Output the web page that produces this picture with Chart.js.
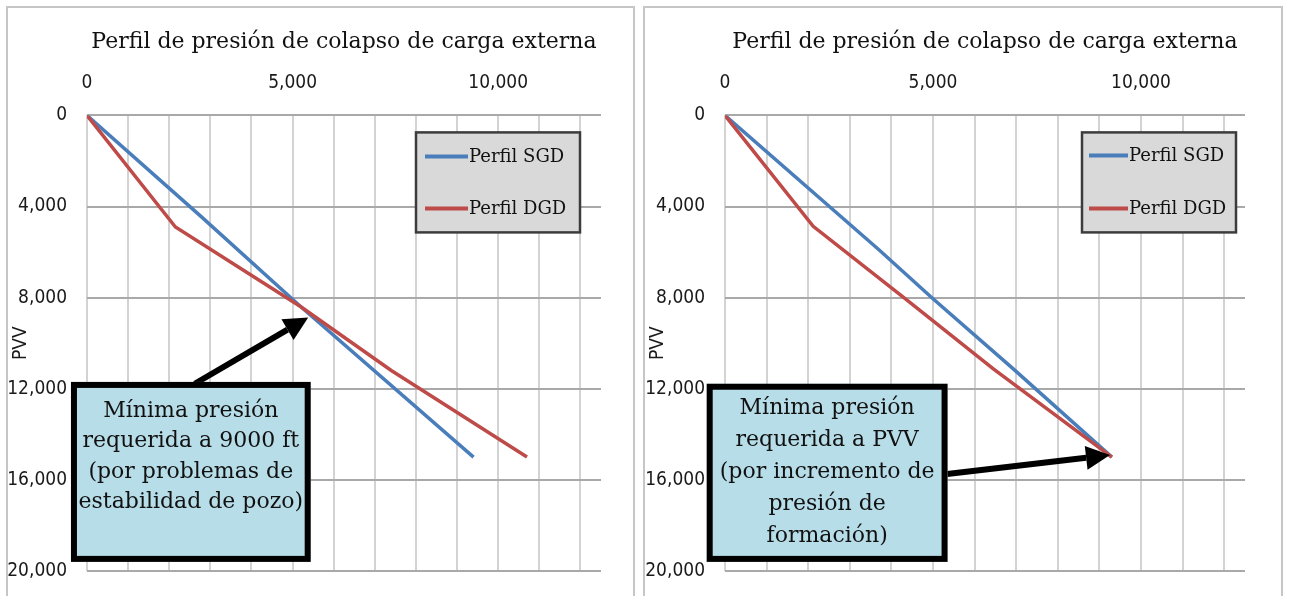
<!DOCTYPE html>
<html><head><meta charset="utf-8">
<script src="https://cdn.jsdelivr.net/npm/chart.js@4.4.1/dist/chart.umd.min.js"></script>
<style>
html,body{margin:0;padding:0;background:#fff;overflow:hidden;}
.panel{position:absolute;top:6px;border:2px solid #c6c6c6;border-bottom:none;}
#p1{left:6px;width:625px;height:590px;}
#p2{left:643px;width:636px;height:590px;}
canvas{display:block;}
</style></head><body>
<div class="panel" id="p1"><canvas id="c1" width="625" height="588"></canvas></div>
<div class="panel" id="p2"><canvas id="c2" width="636" height="588"></canvas></div>
<script>
// ---- data ----
const titulo = 'Perfil de presión de colapso de carga externa';
const ejeY = 'PVV';
const seriesNames = ['Perfil SGD', 'Perfil DGD'];
const ticksPresion = [0, 5000, 10000];          // labelled x ticks
const gridPresion = [0,1000,2000,3000,4000,5000,6000,7000,8000,9000,10000,11000,12000];
const ticksPVV = [0, 4000, 8000, 12000, 16000, 20000];
// left chart
const sgd1Presion = [0, 2750, 5200, 9400];
const sgd1PVV     = [0, 4400, 8400, 15000];
const dgd1Presion = [0, 2150, 5200, 7400, 10700];
const dgd1PVV     = [0, 4900, 8400, 11200, 15000];
// right chart
const sgd2Presion = [0, 3700, 5000, 6930, 9300];
const sgd2PVV     = [0, 5900, 8050, 11130, 15000];
const dgd2Presion = [0, 2120, 4330, 6450, 9300];
const dgd2PVV     = [0, 4870, 8040, 11130, 15000];
// callouts
const nota1 = ['Mínima presión', 'requerida a 9000 ft', '(por problemas de', 'estabilidad de pozo)'];
const nota2 = ['Mínima presión', 'requerida a PVV', '(por incremento de', 'presión de', 'formación)'];

const AZUL = '#4a7ebb', ROJO = '#be4b48';
const pts = (xs, ys) => xs.map((v, i) => ({x: v, y: ys[i]}));
const SERIF = '"DejaVu Serif", serif';
const SANS = '"DejaVu Sans Condensed", "DejaVu Sans", sans-serif';

const calloutPlugin = {
  id: 'callout',
  afterDraw(chart, args, o) {
    const {ctx, chartArea: ca, scales: {x, y}} = chart;
    ctx.save();
    // legend box
    const L = o.legend;
    const lx = ca.right - L.right - L.w, ly = ca.top + L.top;
    ctx.fillStyle = '#d9d9d9';
    ctx.fillRect(lx, ly, L.w, L.h);
    ctx.lineWidth = 2.5; ctx.strokeStyle = '#3c3c3c';
    ctx.strokeRect(lx, ly, L.w, L.h);
    chart.data.datasets.forEach((ds, i) => {
      const yy = ly + L.rowY[i];
      ctx.strokeStyle = ds.borderColor; ctx.lineWidth = 4; ctx.lineCap = 'butt';
      ctx.beginPath(); ctx.moveTo(lx + L.x0, yy); ctx.lineTo(lx + L.x1, yy); ctx.stroke();
      ctx.fillStyle = '#111'; ctx.font = '18px ' + SERIF;
      ctx.textAlign = 'left'; ctx.textBaseline = 'middle';
      ctx.fillText(ds.label, lx + L.x1 + 1, yy + 1);
    });
    // arrow
    const A = o.arrow;
    const ax0 = x.getPixelForValue(A.x0), ay0 = y.getPixelForValue(A.y0);
    const ax1 = x.getPixelForValue(A.x1), ay1 = y.getPixelForValue(A.y1);
    const ang = Math.atan2(ay1 - ay0, ax1 - ax0), hl = 24, hw = 12;
    const bx = ax1 - hl * Math.cos(ang), by = ay1 - hl * Math.sin(ang);
    ctx.strokeStyle = '#000'; ctx.fillStyle = '#000'; ctx.lineWidth = 6;
    ctx.beginPath(); ctx.moveTo(ax0, ay0); ctx.lineTo(bx, by); ctx.stroke();
    ctx.beginPath(); ctx.moveTo(ax1, ay1);
    ctx.lineTo(bx + hw * Math.sin(ang), by - hw * Math.cos(ang));
    ctx.lineTo(bx - hw * Math.sin(ang), by + hw * Math.cos(ang));
    ctx.closePath(); ctx.fill();
    // text box
    const B = o.box;
    const x0 = x.getPixelForValue(B.x0), x1 = x.getPixelForValue(B.x1);
    const y0 = y.getPixelForValue(B.y0), y1 = y.getPixelForValue(B.y1);
    ctx.fillStyle = '#b7dde8';
    ctx.fillRect(x0, y0, x1 - x0, y1 - y0);
    ctx.lineWidth = 6; ctx.strokeStyle = '#000';
    ctx.strokeRect(x0 + 3, y0 + 3, x1 - x0 - 6, y1 - y0 - 6);
    ctx.fillStyle = '#111'; ctx.font = '22px ' + SERIF;
    ctx.textAlign = 'center'; ctx.textBaseline = 'middle';
    B.lines.forEach((t, i) => ctx.fillText(t, (x0 + x1) / 2, y0 + B.top + i * B.gap));
    ctx.restore();
  }
};

function makeChart(id, sx, sy, dx, dy, yWidth, padRight, opts) {
  return new Chart(document.getElementById(id), {
    type: 'scatter',
    data: {
      datasets: [
        {label: seriesNames[0], data: pts(sx, sy), showLine: true, borderColor: AZUL, backgroundColor: AZUL,
         borderWidth: 3.5, pointRadius: 0, tension: 0, order: 1},
        {label: seriesNames[1], data: pts(dx, dy), showLine: true, borderColor: ROJO, backgroundColor: ROJO,
         borderWidth: 3.5, pointRadius: 0, tension: 0, order: 0}
      ]
    },
    options: {
      responsive: false, animation: false, events: [],
      layout: {padding: {left: 0, right: padRight, top: 0, bottom: 25}},
      plugins: {
        legend: {display: false}, tooltip: {enabled: false},
        title: {display: true, text: titulo, fullSize: false, color: '#111',
                font: {family: SERIF, size: 22, weight: 'normal', lineHeight: 1.2},
                padding: {top: 21, bottom: 0}},
        callout: opts
      },
      scales: {
        x: {
          type: 'linear', position: 'top', min: 0, max: 12500,
          afterBuildTicks: s => { s.ticks = gridPresion.map(v => ({value: v})); },
          afterFit: s => { s.height = 60; s.paddingLeft = 0; s.paddingRight = 0; },
          ticks: {autoSkip: false, maxRotation: 0, padding: 21, color: '#1a1a1a',
                  font: {family: SANS, size: 19},
                  callback: v => ticksPresion.includes(v) ? v.toLocaleString('en-US') : ''},
          grid: {color: '#d3d3d3', lineWidth: 2, drawTicks: false},
          border: {display: false}
        },
        y: {
          type: 'linear', reverse: true, min: 0, max: 20000,
          afterBuildTicks: s => { s.ticks = ticksPVV.map(v => ({value: v})); },
          afterFit: s => { s.width = yWidth; s.paddingTop = 0; s.paddingBottom = 0; },
          ticks: {padding: 20, color: '#1a1a1a', font: {family: SANS, size: 19},
                  callback: v => v.toLocaleString('en-US')},
          title: {display: true, text: ejeY, color: '#1a1a1a', font: {family: SANS, size: 19},
                  padding: {top: 2, bottom: 0}},
          grid: {color: '#a9a9a9', lineWidth: 2, drawTicks: false},
          border: {display: false}
        }
      }
    },
    plugins: [calloutPlugin]
  });
}

makeChart('c1', sgd1Presion, sgd1PVV, dgd1Presion, dgd1PVV, 79, 32, {
  legend: {right: 21, top: 17, w: 164, h: 100, rowY: [24, 76], x0: 9, x1: 52},
  arrow: {x0: 2620, y0: 11780, x1: 5380, y1: 8870},
  box: {x0: -390, x1: 5440, y0: 11700, y1: 19600, top: 29, gap: 30.5, lines: nota1}
});
makeChart('c2', sgd2Presion, sgd2PVV, dgd2Presion, dgd2PVV, 80, 36, {
  legend: {right: 9, top: 17, w: 154, h: 100, rowY: [23, 76], x0: 7, x1: 46},
  arrow: {x0: 5340, y0: 15740, x1: 9255, y1: 14910},
  box: {x0: -440, x1: 5350, y0: 11780, y1: 19600, top: 25, gap: 31.8, lines: nota2}
});
</script>
</body></html>
